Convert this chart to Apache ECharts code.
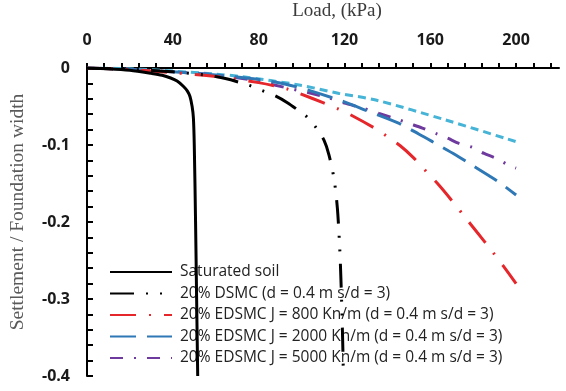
<!DOCTYPE html>
<html>
<head>
<meta charset="utf-8">
<script src="https://cdn.jsdelivr.net/npm/echarts@6/dist/echarts.min.js"></script>
<style>
  html, body { margin: 0; padding: 0; background: #fff; }
  #chart { width: 566px; height: 391px; }
</style>
</head>
<body>
<div id="chart"></div>
<script>
// Load (kPa) against settlement / foundation width for each soil case
const loadSat   = [0, 10, 20, 30, 35, 39, 42, 45, 46.8, 48, 49, 49.6, 50, 50.6, 51.1, 51.6];
const settleSat = [0, -0.001, -0.003, -0.007, -0.0095, -0.013, -0.017, -0.024, -0.030, -0.037, -0.050, -0.065, -0.1, -0.2, -0.3, -0.4];

const loadDsmc   = [0, 20, 40, 55, 64, 75, 81, 87.6, 93.4, 98, 102.7, 106.9, 110.5, 112.8, 115.2, 116.7, 117.8, 118.3, 118.8, 119.3, 119.5];
const settleDsmc = [0, -0.002, -0.005, -0.009, -0.0134, -0.022, -0.0286, -0.036, -0.045, -0.054, -0.064, -0.078, -0.094, -0.113, -0.145, -0.182, -0.234, -0.27, -0.314, -0.37, -0.4];

const loadJ800   = [0, 20, 40, 60, 80, 93, 99, 110, 117, 123, 134, 140, 146, 152, 158, 164, 170, 176, 182, 188, 194, 200];
const settleJ800 = [0, -0.002, -0.006, -0.011, -0.019, -0.027, -0.033, -0.045, -0.053, -0.061, -0.078, -0.089, -0.101, -0.116, -0.134, -0.152, -0.172, -0.193, -0.214, -0.235, -0.257, -0.280];

const loadJ2000   = [0, 20, 40, 60, 80, 92.6, 103.5, 120, 130, 145.5, 154.8, 161, 171.9, 176.5, 187.4, 192.9, 200];
const settleJ2000 = [0, -0.002, -0.005, -0.009, -0.015, -0.021, -0.029, -0.044, -0.055, -0.072, -0.086, -0.0957, -0.113, -0.121, -0.140, -0.150, -0.165];

const loadJ5000   = [0, 20, 40, 60, 78.6, 85.6, 110.5, 120.6, 128.3, 136.1, 145.5, 150.1, 156.3, 162.6, 168, 173.4, 179.6, 185.1, 190.5, 196.4, 200];
const settleJ5000 = [0, -0.002, -0.005, -0.009, -0.0165, -0.021, -0.037, -0.046, -0.052, -0.059, -0.0675, -0.072, -0.078, -0.085, -0.091, -0.098, -0.103, -0.111, -0.117, -0.126, -0.13];

const loadUpper   = [0, 20, 40, 60, 72.4, 98.8, 117.5, 134.6, 167.2, 200];
const settleUpper = [0, -0.001, -0.004, -0.008, -0.0113, -0.022, -0.033, -0.0416, -0.0675, -0.0957];

const xTickLabels = [0, 40, 80, 120, 160, 200];

const seriesNames = [
  'Saturated soil',
  '20% DSMC (d = 0.4 m s/d = 3)',
  '20% EDSMC J = 800 Kn/m (d = 0.4 m s/d = 3)',
  '20% EDSMC J = 2000 Kn/m (d = 0.4 m s/d = 3)',
  '20% EDSMC J = 5000 Kn/m (d = 0.4 m s/d = 3)'
];

function pairs(xs, ys) { return xs.map((x, i) => [x, ys[i]]); }

// minor ticks every 8 kPa along the load axis
const xTicks = [];
for (let v = 0; v <= 216; v += 8) xTicks.push(v);

function line(name, xs, ys, color, type, width) {
  return {
    name, type: 'line', data: pairs(xs, ys),
    showSymbol: false, symbol: 'none', smooth: 0.3, z: 5,
    lineStyle: { color, width, type, cap: 'butt' },
    itemStyle: { color }
  };
}

const titleFont = 'Liberation Serif';

const chart = echarts.init(document.getElementById('chart'), null, { renderer: 'canvas' });
chart.setOption({
  animation: false,
  backgroundColor: '#fff',
  grid: { left: 87, right: 7, top: 68, bottom: 15, containLabel: false, outerBoundsMode: 'none' },
  graphic: [
    {
      type: 'text', x: 337, y: 11,
      style: { text: 'Load, (kPa)', x: 0, y: 0, align: 'center', verticalAlign: 'middle',
               fontFamily: titleFont, fontSize: 19, fill: '#3a3a3a' }
    },
    {
      type: 'text', x: 18, y: 212, rotation: Math.PI / 2,
      style: { text: 'Settlement / Foundation width', x: 0, y: 0, align: 'center', verticalAlign: 'middle',
               fontFamily: titleFont, fontSize: 19.5, fill: '#5a5a5a' }
    }
  ],
  xAxis: {
    type: 'value', position: 'top', min: 0, max: 220, interval: 40,
    axisLine: { show: true, onZero: false, lineStyle: { color: '#000', width: 2 } },
    axisTick: { show: true, inside: false, length: 5, customValues: xTicks, lineStyle: { color: '#000', width: 2 } },
    axisLabel: { customValues: xTickLabels, margin: 20, fontFamily: 'Open Sans', fontWeight: 'bold', fontSize: 16, color: '#1a1a1a' },
    splitLine: { show: false }
  },
  yAxis: {
    type: 'value', min: -0.4, max: 0, interval: 0.1,
    axisLine: { show: true, onZero: false, lineStyle: { color: '#000', width: 2 } },
    axisTick: { show: true, inside: true, length: 6, lineStyle: { color: '#000', width: 2 } },
    minorTick: { show: true, splitNumber: 5, length: 6, lineStyle: { color: '#000', width: 2 } },
    axisLabel: { margin: 17, fontFamily: 'Open Sans', fontWeight: 'bold', fontSize: 16, color: '#1a1a1a' },
    splitLine: { show: false }
  },
  legend: {
    data: seriesNames, orient: 'vertical', left: 109, top: 264, z: 1,
    itemWidth: 62, itemHeight: 14, itemGap: 5.5, padding: 0,
    itemStyle: { opacity: 0 },
    textStyle: { fontFamily: 'Open Sans', fontSize: 15.5, color: '#222', padding: [0, 0, 0, 3] }
  },
  series: [
    line('EDSMC upper', loadUpper, settleUpper, '#46b4d6', [8, 5], 3),
    line(seriesNames[4], loadJ5000, settleJ5000, '#6f3a9e', [13, 11, 2, 11], 3),
    line(seriesNames[3], loadJ2000, settleJ2000, '#2f78b6', [26, 11], 3),
    line(seriesNames[2], loadJ800, settleJ800, '#e5262b', [26, 13, 2, 13], 3),
    line(seriesNames[1], loadDsmc, settleDsmc, '#000', [24, 12, 2, 12, 2, 12], 3),
    line(seriesNames[0], loadSat, settleSat, '#000', 'solid', 3)
  ]
});
</script>
</body>
</html>
